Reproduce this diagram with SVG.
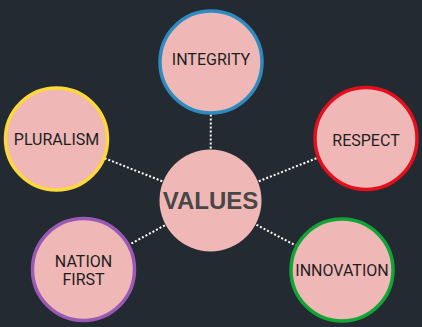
<svg xmlns="http://www.w3.org/2000/svg" width="422" height="327" viewBox="0 0 422 327">
<style>
.bg{fill:#232a31}
.node{fill:#efb8b7;stroke-width:3.5}
.lbl{font-family:Roboto,"Liberation Sans",sans-serif;font-size:16px;fill:#1e1e1e;text-anchor:middle}
.center{font-family:"Liberation Sans",Arial,sans-serif;font-size:24px;font-weight:bold;fill:#474747;text-anchor:middle}
.conn{stroke:#ffffff;stroke-width:2;stroke-dasharray:2 2;fill:none}
</style>
<rect class="bg" x="0" y="0" width="422" height="327"/>
<g id="connectors">
<line class="conn" x1="210.5" y1="200.5" x2="211" y2="62"/>
<line class="conn" x1="210.5" y1="200.5" x2="56.5" y2="139"/>
<line class="conn" x1="210.5" y1="200.5" x2="366" y2="138.5"/>
<line class="conn" x1="210.5" y1="200.5" x2="83.5" y2="269.5"/>
<line class="conn" x1="210.5" y1="200.5" x2="342" y2="270"/>
</g>
<g id="integrity">
<circle class="node" cx="211" cy="62" r="51" stroke="#2e8bc0"/>
<text class="lbl" x="211" y="65">INTEGRITY</text>
</g>
<g id="pluralism">
<circle class="node" cx="56.5" cy="139" r="51" stroke="#fcd83a"/>
<text class="lbl" x="56.5" y="145">PLURALISM</text>
</g>
<g id="respect">
<circle class="node" cx="366" cy="138.5" r="51" stroke="#e30f1c"/>
<text class="lbl" x="366" y="145.5">RESPECT</text>
</g>
<g id="nation-first">
<circle class="node" cx="83.5" cy="269.5" r="51" stroke="#9b59b6"/>
<text class="lbl" x="83.5" y="267">NATION</text>
<text class="lbl" x="83.5" y="284.5">FIRST</text>
</g>
<g id="innovation">
<circle class="node" cx="342" cy="270" r="51" stroke="#10a535"/>
<text class="lbl" x="342" y="276">INNOVATION</text>
</g>
<g id="values">
<circle cx="210.5" cy="200.5" r="51" fill="#efb8b7"/>
<text class="center" x="210.5" y="209">VALUES</text>
</g>
</svg>
